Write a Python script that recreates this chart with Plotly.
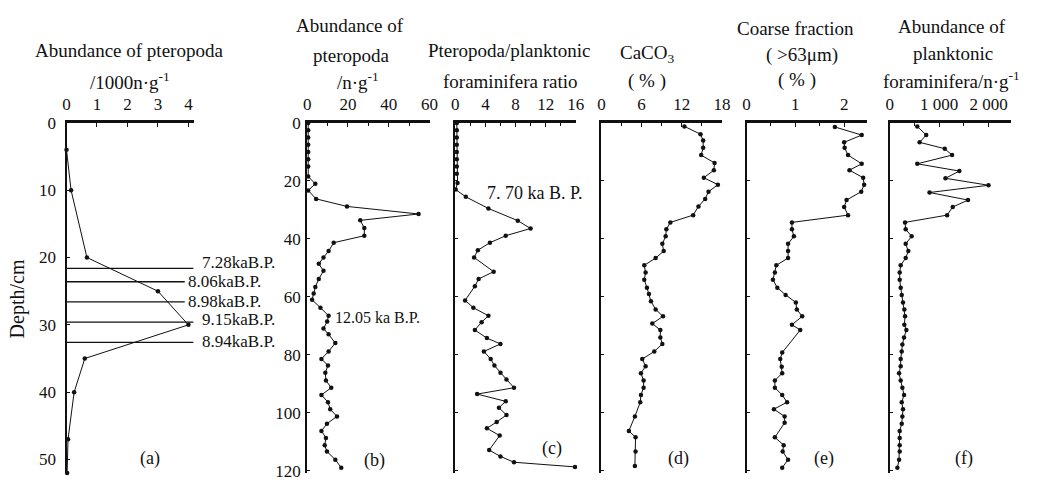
import plotly.graph_objects as go

W, H = 1039, 489

# ---------------- data ----------------
a_depth = [4, 10, 20, 25, 30, 35, 40, 47, 52]
a_val = [0.0, 0.15, 0.67, 3.0, 4.0, 0.6, 0.25, 0.05, 0.02]
a_age_depth = [21.6, 23.6, 26.6, 29.6, 32.6]
a_age_label = ["7.28kaB.P.", "8.06kaB.P.", "8.98kaB.P.", "9.15kaB.P.", "8.94kaB.P."]
a_age_lineend = [4.17, 3.88, 3.88, 4.17, 4.17]

b_depth = [0, 2.5, 5, 7.5, 10, 12.5, 15, 18.5, 21, 23.3, 26.2, 28.8, 31.4, 33.6, 36.2, 38.9,
           41.3, 44.2, 46.4, 48.6, 51, 53.8, 56.6, 58.8, 61, 63.7, 66.5, 68.5, 70.9, 72.9,
           75.9, 78.8, 81.4, 83.6, 86.1, 88.8, 91.3, 93.8, 96.3, 98.7, 101.2, 103.7, 106.2,
           108.6, 111.1, 113.3, 116.1, 118.9]
b_val = [0.5, 0.5, 0.5, 0.5, 0.5, 0.5, 0.5, 0.5, 4, 0.5, 4.4, 19.5, 54.6, 26, 28, 28,
         13, 10.5, 8, 5.7, 8, 5.7, 4, 3.2, 2.4, 6.5, 10.5, 9.8, 8, 10.5,
         13.8, 10.5, 7, 10.2, 8.9, 9.2, 11.8, 7, 10.2, 11.3, 14.6, 9.7, 7,
         9.2, 8.6, 9.7, 13.8, 16.7]

c_depth = [0, 2.5, 5, 7.5, 10, 12.5, 15, 17.5, 20.7, 23.0, 25.5, 29.5, 33.7, 36.4, 38.9,
           41.3, 43.9, 46.4, 51.3, 53.8, 56.3, 61.2, 63.7, 66.5, 68.7, 71.4, 74.2, 76.2,
           78.8, 81.4, 83.6, 86.1, 88.5, 91.3, 93.5, 96.0, 98.2, 100.7, 103.1, 105.3,
           107.8, 112.8, 115.0, 117.0, 118.6]
c_val = [0.2, 0.2, 0.2, 0.2, 0.2, 0.2, 0.2, 0.2, 0.3, 0.05, 1.4, 4.4, 8.3, 10.0, 6.7,
         4.6, 3.0, 2.5, 5.1, 3.1, 2.6, 1.3, 2.4, 4.4, 3.5, 2.6, 4.2, 6.0,
         3.8, 4.7, 5.2, 6.0, 6.8, 7.8, 2.9, 6.7, 5.8, 6.8, 5.5, 4.2,
         5.9, 4.5, 6.0, 7.8, 15.9]

d_depth = [1.2, 3.9, 6.1, 8.6, 11.1, 13.8, 16.3, 18.9, 21.3, 23.7, 26.2, 28.8, 31.8, 34.3,
           36.7, 39.1, 41.7, 44.2, 46.6, 49.1, 51.6, 54.1, 56.8, 59.0, 61.5, 64.3, 66.7,
           69.2, 71.4, 74.0, 76.2, 78.8, 81.4, 83.9, 86.3, 88.8, 91.3, 93.8, 96.3, 101.2,
           106.2, 108.4, 113.3, 118.3]
d_val = [12.4, 14.8, 15.2, 15.2, 14.9, 16.9, 16.8, 15.3, 17.4, 16.0, 15.5, 14.5, 13.7, 10.3,
         9.7, 9.6, 9.1, 9.3, 8.1, 6.4, 6.6, 6.4, 6.8, 7.1, 7.4, 8.1, 9.2,
         7.6, 8.8, 8.8, 9.1, 7.9, 6.1, 6.6, 5.9, 6.3, 6.3, 5.9, 5.8, 5.0,
         4.1, 5.1, 5.1, 5.0]

e_depth = [1.4, 4.2, 6.7, 8.6, 11.1, 14.1, 16.3, 18.9, 21.3, 23.7, 26.6, 29.0, 31.8, 34.3,
           36.7, 39.1, 41.7, 44.2, 46.6, 49.1, 51.6, 54.1, 56.8, 59.3, 61.9, 64.3, 66.7,
           69.6, 71.4, 79.2, 81.4, 84.1, 86.3, 88.8, 91.3, 93.8, 96.3, 98.7, 101.2, 103.4,
           108.4, 111.1, 113.3, 116.1, 118.9]
e_val = [1.81, 2.36, 2.0, 2.01, 2.08, 2.36, 2.11, 2.39, 2.41, 2.35, 2.05, 2.0, 2.08, 0.93,
         0.93, 0.97, 0.85, 0.85, 0.85, 0.61, 0.58, 0.54, 0.63, 0.80, 1.01, 1.03, 1.14,
         0.93, 1.10, 0.73, 0.69, 0.72, 0.73, 0.58, 0.58, 0.73, 0.83, 0.56, 0.78, 0.78,
         0.58, 0.76, 0.74, 0.85, 0.73]

f_depth = [1.2, 4.2, 6.7, 8.9, 11.1, 14.1, 16.6, 19.1, 21.5, 24.0, 26.6, 29.0, 31.8, 34.3,
           36.7, 39.1, 41.7, 44.2, 46.6, 49.1, 51.6, 54.1, 56.8, 59.3, 61.9, 64.3, 66.7,
           69.6, 71.4, 74.0, 76.4, 78.8, 81.4, 83.9, 86.3, 88.8, 91.3, 93.8, 96.3, 98.7,
           101.2, 103.7, 106.2, 108.6, 111.1, 113.3, 116.1, 118.9]
f_val = [557, 738, 604, 1114, 1262, 557, 1409, 1128, 2000, 805, 1584, 1275, 1161, 309,
         322, 443, 322, 376, 322, 221, 201, 201, 221, 242, 268, 295, 309,
         295, 336, 289, 255, 242, 221, 221, 188, 221, 255, 289, 242, 268,
         255, 242, 201, 201, 201, 201, 188, 154]

# tick labels
a_xticks = [0, 1, 2, 3, 4]
b_xticks = [0, 20, 40, 60]
c_xticks = [0, 4, 8, 12, 16]
d_xticks = [0, 6, 12, 18]
e_xticks = [0, 1, 2]
f_xticks = [0, 1000, 2000]
f_xticktext = ["0", "1 000", "2 000"]
a_yticks = [0, 10, 20, 30, 40, 50]
core_yticks = [0, 20, 40, 60, 80, 100, 120]

# ---------------- layout helpers ----------------
def px(x):
    return x / W

def py(y):
    return 1 - y / H

FONT = "Liberation Serif"
BLACK = "#111111"
TICK = 17
TITLE = 19

panels = [
    (63.3, 192, [0, 4.17], 52.05, a_depth, a_val, a_xticks, None, None),
    (307, 431, [0, 60], 120.8, b_depth, b_val, b_xticks, None, 10),
    (457, 579, [0, 16], 120.8, c_depth, c_val, c_xticks, None, 2),
    (605, 727, [0, 18], 120.8, d_depth, d_val, d_xticks, None, 3),
    (752, 874, [0, 2.47], 120.8, e_depth, e_val, e_xticks, None, 0.5),
    (897, 1020, [0, 2460], 120.8, f_depth, f_val, f_xticks, f_xticktext, 500),
]

fig = go.Figure()
layout = dict(
    width=W, height=H, margin=dict(l=0, r=0, t=0, b=0),
    paper_bgcolor="white", plot_bgcolor="white", showlegend=False,
    font=dict(family=FONT, size=TICK, color=BLACK),
)

ytop, ybot = 118, 481
for i, (x0, x1, xr, ymax, dep, val, xt, xtt, mdt) in enumerate(panels, start=1):
    sfx = "" if i == 1 else str(i)
    fig.add_trace(go.Scatter(
        x=val, y=dep, mode="lines+markers",
        line=dict(color=BLACK, width=1),
        marker=dict(color=BLACK, size=4.5),
        xaxis="x" + sfx, yaxis="y" + sfx, hoverinfo="skip", cliponaxis=False,
    ))
    xa = dict(
        domain=[px(x0), px(x1)], range=xr, side="top", anchor="y" + sfx,
        showline=True, linewidth=2.5, linecolor=BLACK, showgrid=False, zeroline=False,
        ticks="inside", ticklen=4, tickwidth=1, tickcolor=BLACK,
        tickvals=xt, ticktext=xtt if xtt else [str(v) for v in xt],
        tickfont=dict(family=FONT, size=TICK, color=BLACK),
        ticklabelstandoff=3, ticklabeloverflow="allow",
        fixedrange=True,
    )
    if mdt:
        xa["minor"] = dict(ticks="inside", dtick=mdt, ticklen=3, tickcolor=BLACK)
    ya = dict(
        domain=[py(ybot), py(ytop)], range=[ymax, 0], anchor="x" + sfx,
        showline=True, linewidth=2, linecolor=BLACK, showgrid=False, zeroline=False,
        ticks="inside", ticklen=3, tickwidth=1, tickcolor=BLACK,
        tickvals=a_yticks if i == 1 else core_yticks,
        showticklabels=(i <= 2),
        tickfont=dict(family=FONT, size=TICK, color=BLACK),
        ticklabelstandoff=(5 if i == 1 else 1), ticklabeloverflow="allow",
        fixedrange=True,
    )
    layout["xaxis" + sfx] = xa
    layout["yaxis" + sfx] = ya

fig.update_layout(**layout)

# age lines and labels in panel (a)
a_y0, a_scale = 118.3, 6.968
label_x_px = [198, 184, 184, 198, 198]
label_dy_px = [-6, 0, -1, -3, -1]
for d, lab, xe, lx, dy in zip(a_age_depth, a_age_label, a_age_lineend, label_x_px, label_dy_px):
    fig.add_shape(type="line", xref="x", yref="y", x0=0, x1=xe, y0=d, y1=d,
                  line=dict(color=BLACK, width=1.3))
    fig.add_annotation(xref="paper", yref="paper", x=px(lx), y=py(a_y0 + d * a_scale + dy),
                       text=lab, showarrow=False, xanchor="left", yanchor="middle",
                       font=dict(family=FONT, size=17, color=BLACK))

fig.add_annotation(xref="x2", yref="y2", x=12.6, y=67, text="12.05 ka B.P.", showarrow=False,
                   xanchor="left", yanchor="middle", font=dict(family=FONT, size=16, color=BLACK))
fig.add_annotation(xref="paper", yref="paper", x=px(487), y=py(191), text="7. 70 ka B. P.",
                   showarrow=False, xanchor="left", yanchor="middle",
                   font=dict(family=FONT, size=18, color=BLACK))

# titles
titles = [
    (127, 43, "Abundance of pteropoda"),
    (128, 75, "/1000n·g<sup>-1</sup>"),
    (350, 17, "Abundance of"),
    (352, 48, "pteropoda"),
    (358, 75, "/n·g<sup>-1</sup>"),
    (512, 43, "Pteropoda/planktonic"),
    (513, 75, "foraminifera ratio"),
    (652, 47, "CaCO<sub>3</sub>"),
    (651, 75, "( % )"),
    (802, 20, "Coarse fraction"),
    (808, 48, "( >63μm)"),
    (803, 74, "( % )"),
    (960, 18, "Abundance of"),
    (961, 46, "planktonic"),
    (959, 74, "foraminifera/n·g<sup>-1</sup>"),
]
for x, y, t in titles:
    fig.add_annotation(xref="paper", yref="paper", x=px(x), y=py(y), text=t, showarrow=False,
                       xanchor="center", yanchor="middle",
                       font=dict(family=FONT, size=TITLE, color=BLACK))

# panel letters
letters = [(148, 466, "(a)"), (375, 468, "(b)"), (555, 455, "(c)"), (683, 466, "(d)"),
           (830, 466, "(e)"), (972, 466, "(f)")]
for x, y, t in letters:
    fig.add_annotation(xref="paper", yref="paper", x=px(x), y=py(y), text=t, showarrow=False,
                       xanchor="center", yanchor="middle",
                       font=dict(family=FONT, size=18, color=BLACK))

# depth axis title
fig.add_annotation(xref="paper", yref="paper", x=px(14), y=py(300), text="Depth/cm",
                   showarrow=False, textangle=-90, xanchor="center", yanchor="middle",
                   font=dict(family=FONT, size=20, color=BLACK))

fig.write_html("out.html", config={"displayModeBar": False},
               post_script="document.body.style.margin='0';document.body.style.overflow='hidden';")
